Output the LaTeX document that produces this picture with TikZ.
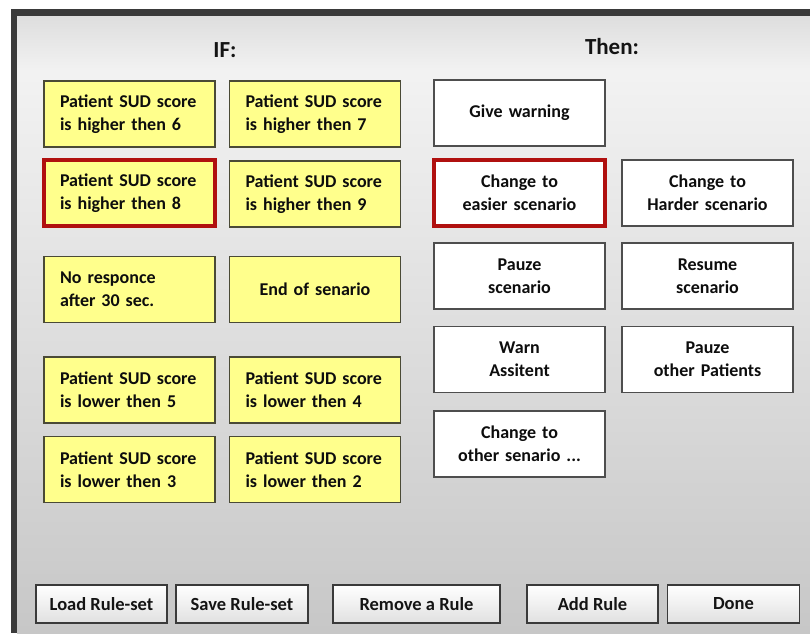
\documentclass[tikz,border=0pt]{standalone}
\usepackage{fontspec}
\setmainfont{Carlito}
\definecolor{boxyellow}{HTML}{FFFF8C}
\definecolor{yborder}{HTML}{4A4A36}
\definecolor{wborder}{HTML}{4E4E4E}
\definecolor{selred}{HTML}{B0100F}
\definecolor{frame}{HTML}{3A3A3A}
\tikzset{
  x=1pt,y=-1pt,
  btxt/.style={font=\bfseries\fontsize{18}{23}\selectfont, text=black!95},
  ifbox/.style={btxt, draw=yborder, line width=1.4pt, fill=boxyellow,
    minimum height=66pt, text width=139pt, inner xsep=16pt, inner ysep=0pt, align=left},
  ifboxc/.style={ifbox, align=center},
  thenbox/.style={btxt, draw=wborder, line width=1.4pt, fill=white,
    minimum height=66pt, text width=151pt, inner xsep=10pt, inner ysep=0pt, align=center},
  selected/.style={draw=selred, line width=4.5pt},
  button/.style={font=\bfseries\fontsize{18.5}{23}\selectfont, text=black!92, draw=frame, line width=1.3pt, top color=white, bottom color=black!12,
    minimum height=38pt, inner sep=0pt},
  title/.style={font=\bfseries\fontsize{23}{26}\selectfont, text=black!92}
}
\begin{document}
\begin{tikzpicture}
\useasboundingbox (0,0) rectangle (810,633);
\fill[white] (0,0) rectangle (810,633);
% dialog frame
\fill[frame] (11,9) rectangle (810,633);
\shade[top color=black!13, bottom color=black!5] (17,16) rectangle (810,72);
\shade[top color=black!5, bottom color=black!22] (17,72) rectangle (810,633);

% titles
\node[title] (if) at (225,50) {IF:};
\node[title] (then) at (612,47) {Then:};

% IF boxes
\node[ifbox, minimum width=171pt] (i1) at (129.5,114) {Patient SUD score\\is higher then 6};
\node[ifbox, minimum width=171pt] (i2) at (315,114) {Patient SUD score\\is higher then 7};
\node[ifbox, minimum width=171pt, selected] (i3) at (129.5,193) {Patient SUD score\\is higher then 8};
\node[ifbox, minimum width=171pt] (i4) at (315,194) {Patient SUD score\\is higher then 9};
\node[ifbox, minimum width=171pt] (i5) at (129.5,289.5) {No responce\\after 30 sec.};
\node[ifboxc, minimum width=171pt] (i6) at (315,289.5) {End of senario};
\node[ifbox, minimum width=171pt] (i7) at (129.5,390) {Patient SUD score\\is lower then 5};
\node[ifbox, minimum width=171pt] (i8) at (315,390) {Patient SUD score\\is lower then 4};
\node[ifbox, minimum width=171pt] (i9) at (129.5,469.5) {Patient SUD score\\is lower then 3};
\node[ifbox, minimum width=171pt] (i10) at (315,469.5) {Patient SUD score\\is lower then 2};

% THEN boxes
\node[thenbox] (t1) at (519.5,113) {Give warning};
\node[thenbox, selected] (t2) at (519.5,193) {Change to\\easier scenario};
\node[thenbox] (t3) at (707.5,193) {Change to\\Harder scenario};
\node[thenbox] (t4) at (519.5,276) {Pauze\\scenario};
\node[thenbox] (t5) at (707.5,276) {Resume\\scenario};
\node[thenbox] (t6) at (519.5,359.5) {Warn\\Assitent};
\node[thenbox] (t7) at (707.5,359.5) {Pauze\\other Patients};
\node[thenbox] (t8) at (519.5,444) {Change to\\other senario ...};

% buttons
\node[button, minimum width=131pt] (b1) at (101.5,604) {Load Rule-set};
\node[button, minimum width=132pt] (b2) at (242,604) {Save Rule-set};
\node[button, minimum width=167pt] (b3) at (416.5,604) {Remove a Rule};
\node[button, minimum width=131pt] (b4) at (592.5,604) {Add Rule};
\node[button, minimum width=132pt] (b5) at (733.5,604) {Done};
\end{tikzpicture}
\end{document}
